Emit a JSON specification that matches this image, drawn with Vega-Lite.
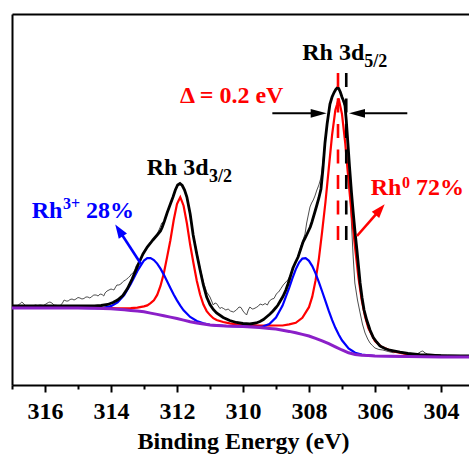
{
"$schema": "https://vega.github.io/schema/vega-lite/v6.json",
"width": 457, "height": 371,
"autosize": {"type": "none"},
"padding": {"left": 12, "top": 14, "right": 0, "bottom": 69},
"background": "white",
"config": {"view": {"stroke": null}, "axis": {"grid": false, "domainColor": "#000000", "tickColor": "#000000"}},
"datasets": {
"base": [{"be":317,"i":77},{"be":316,"i":77},{"be":315,"i":77},{"be":314.5,"i":76.8},{"be":314,"i":76.2},{"be":313.8,"i":75.7},{"be":313.6,"i":75.2},{"be":313.4,"i":74.6},{"be":313.2,"i":73.9},{"be":313,"i":73.2},{"be":312.8,"i":71.9},{"be":312.6,"i":70.6},{"be":312.4,"i":69.3},{"be":312.2,"i":67.9},{"be":312,"i":66.5},{"be":311.8,"i":64.9},{"be":311.6,"i":63.3},{"be":311.4,"i":62},{"be":311.2,"i":61},{"be":311,"i":60},{"be":310.8,"i":59.6},{"be":310.5,"i":59},{"be":310.2,"i":58.7},{"be":310,"i":58.5},{"be":309.5,"i":57.5},{"be":309.2,"i":56.6},{"be":309,"i":56},{"be":308.8,"i":54.8},{"be":308.6,"i":53.6},{"be":308.4,"i":52.2},{"be":308.2,"i":50.6},{"be":308,"i":49},{"be":307.8,"i":46.6},{"be":307.6,"i":44.2},{"be":307.4,"i":41.4},{"be":307.2,"i":38.2},{"be":307,"i":35},{"be":306.8,"i":32.2},{"be":306.6,"i":30.6},{"be":306.4,"i":29.8},{"be":306.2,"i":29.4},{"be":306,"i":29},{"be":305.5,"i":28.75},{"be":305,"i":28.5},{"be":304.5,"i":28.2},{"be":304,"i":28},{"be":303.15,"i":28}],
"red": [{"be":317,"i":77},{"be":316,"i":77},{"be":315,"i":77.1},{"be":314.5,"i":77.1},{"be":314,"i":76.9},{"be":313.8,"i":76.7},{"be":313.6,"i":76.7},{"be":313.4,"i":76.8},{"be":313.2,"i":77.3},{"be":313,"i":78.6},{"be":312.9,"i":79.6},{"be":312.8,"i":81.8},{"be":312.7,"i":84.7},{"be":312.6,"i":90.1},{"be":312.5,"i":99},{"be":312.4,"i":111.5},{"be":312.3,"i":127.9},{"be":312.2,"i":144.8},{"be":312.1,"i":164.8},{"be":312,"i":180.9},{"be":311.95,"i":184.4},{"be":311.9,"i":187.7},{"be":311.85,"i":183.6},{"be":311.8,"i":179.3},{"be":311.7,"i":161.7},{"be":311.6,"i":140.2},{"be":311.5,"i":121.8},{"be":311.4,"i":104.2},{"be":311.3,"i":90.5},{"be":311.2,"i":80.5},{"be":311.1,"i":73.9},{"be":311,"i":69.9},{"be":310.9,"i":66.8},{"be":310.8,"i":65},{"be":310.6,"i":63},{"be":310.4,"i":61.6},{"be":310.2,"i":60.7},{"be":310,"i":60.1},{"be":309.5,"i":59.4},{"be":309,"i":59.5},{"be":308.8,"i":59.5},{"be":308.6,"i":60.6},{"be":308.4,"i":62.2},{"be":308.2,"i":67.2},{"be":308,"i":77.8},{"be":307.9,"i":88.3},{"be":307.8,"i":104.6},{"be":307.7,"i":126.2},{"be":307.6,"i":153.7},{"be":307.5,"i":183},{"be":307.4,"i":216.4},{"be":307.3,"i":249.8},{"be":307.2,"i":274.9},{"be":307.15,"i":280.4},{"be":307.1,"i":286.6},{"be":307.05,"i":278.8},{"be":307,"i":271},{"be":306.9,"i":241.6},{"be":306.8,"i":203.7},{"be":306.7,"i":168.7},{"be":306.6,"i":136.6},{"be":306.5,"i":107.5},{"be":306.4,"i":84.8},{"be":306.3,"i":68.4},{"be":306.2,"i":56.9},{"be":306.1,"i":50.4},{"be":306,"i":44},{"be":305.8,"i":38.2},{"be":305.6,"i":35.5},{"be":305.4,"i":33.2},{"be":305,"i":30.7},{"be":304.5,"i":29},{"be":304,"i":28.4},{"be":303.15,"i":28.2}],
"blue": [{"be":317,"i":77},{"be":316,"i":77},{"be":315,"i":77},{"be":314.6,"i":76.9},{"be":314.4,"i":76.9},{"be":314.2,"i":77.5},{"be":314,"i":78.9},{"be":313.8,"i":82.6},{"be":313.6,"i":89.9},{"be":313.4,"i":101.1},{"be":313.2,"i":114.1},{"be":313,"i":124.5},{"be":312.9,"i":126.8},{"be":312.8,"i":126.9},{"be":312.7,"i":125},{"be":312.6,"i":121.4},{"be":312.5,"i":116.4},{"be":312.4,"i":110.4},{"be":312.3,"i":103.8},{"be":312.2,"i":97},{"be":312.1,"i":90.5},{"be":312,"i":84.6},{"be":311.9,"i":79.3},{"be":311.8,"i":74.7},{"be":311.6,"i":68},{"be":311.4,"i":64},{"be":311.2,"i":61.7},{"be":311,"i":60.2},{"be":310.6,"i":59.2},{"be":310.2,"i":58.7},{"be":310,"i":58.5},{"be":309.6,"i":58.1},{"be":309.4,"i":58.5},{"be":309.2,"i":60.9},{"be":309,"i":67.4},{"be":308.8,"i":79.4},{"be":308.6,"i":97.2},{"be":308.5,"i":106.8},{"be":308.4,"i":115.6},{"be":308.3,"i":122.5},{"be":308.2,"i":126.4},{"be":308.1,"i":126.8},{"be":308,"i":124.2},{"be":307.9,"i":118.9},{"be":307.8,"i":111.6},{"be":307.7,"i":102.9},{"be":307.6,"i":93.5},{"be":307.5,"i":83.8},{"be":307.4,"i":74.1},{"be":307.3,"i":65.1},{"be":307.2,"i":57.2},{"be":307.1,"i":50.4},{"be":307,"i":44.7},{"be":306.8,"i":36.5},{"be":306.6,"i":32.3},{"be":306.4,"i":30.4},{"be":306.2,"i":29.6},{"be":306,"i":29},{"be":305.5,"i":28.75},{"be":305,"i":28.5},{"be":304,"i":28},{"be":303.15,"i":28}],
"env": [{"be":317,"i":79},{"be":316,"i":79},{"be":315,"i":79},{"be":314.5,"i":79},{"be":314.3,"i":79.5},{"be":314.1,"i":80.5},{"be":313.94,"i":82.5},{"be":313.8,"i":85},{"be":313.64,"i":89.5},{"be":313.5,"i":96.5},{"be":313.36,"i":106},{"be":313.25,"i":114.5},{"be":313.18,"i":120},{"be":313.1,"i":126},{"be":313.03,"i":131},{"be":312.9,"i":138},{"be":312.8,"i":142},{"be":312.73,"i":145},{"be":312.6,"i":150},{"be":312.5,"i":154},{"be":312.45,"i":157.5},{"be":312.38,"i":164},{"be":312.3,"i":172},{"be":312.2,"i":181},{"be":312.12,"i":188},{"be":312.05,"i":195},{"be":311.98,"i":200},{"be":311.91,"i":201.5},{"be":311.84,"i":199.5},{"be":311.77,"i":195},{"be":311.7,"i":188},{"be":311.6,"i":171},{"be":311.51,"i":150},{"be":311.4,"i":131},{"be":311.3,"i":115},{"be":311.2,"i":100},{"be":311.1,"i":88},{"be":311,"i":80.5},{"be":310.9,"i":75.5},{"be":310.8,"i":72},{"be":310.6,"i":67.5},{"be":310.4,"i":64.5},{"be":310.2,"i":62.5},{"be":310,"i":61.5},{"be":309.79,"i":61},{"be":309.6,"i":62},{"be":309.485,"i":63.5},{"be":309.38,"i":65.5},{"be":309.27,"i":68.5},{"be":309.18,"i":71},{"be":309.09,"i":74},{"be":309,"i":77.5},{"be":308.94,"i":80},{"be":308.87,"i":84},{"be":308.79,"i":88.5},{"be":308.7,"i":95},{"be":308.636,"i":101},{"be":308.56,"i":109},{"be":308.485,"i":117},{"be":308.41,"i":122.5},{"be":308.33,"i":128},{"be":308.25,"i":136},{"be":308.18,"i":143},{"be":308.1,"i":148},{"be":308.03,"i":153},{"be":307.96,"i":158},{"be":307.91,"i":163},{"be":307.83,"i":172},{"be":307.76,"i":180},{"be":307.7,"i":187},{"be":307.636,"i":196},{"be":307.58,"i":215},{"be":307.515,"i":242},{"be":307.45,"i":261},{"be":307.364,"i":281},{"be":307.3,"i":288},{"be":307.24,"i":292.5},{"be":307.19,"i":295.5},{"be":307.15,"i":297},{"be":307.1,"i":296.5},{"be":307.05,"i":293},{"be":307,"i":288},{"be":306.95,"i":284},{"be":306.91,"i":280},{"be":306.87,"i":265},{"be":306.82,"i":242},{"be":306.77,"i":218},{"be":306.71,"i":192},{"be":306.66,"i":173},{"be":306.61,"i":155},{"be":306.55,"i":136},{"be":306.5,"i":119},{"be":306.45,"i":102},{"be":306.39,"i":87},{"be":306.33,"i":75},{"be":306.25,"i":65},{"be":306.15,"i":55},{"be":306.05,"i":47.5},{"be":305.95,"i":43},{"be":305.85,"i":39},{"be":305.7,"i":36.5},{"be":305.55,"i":34.8},{"be":305.4,"i":33.8},{"be":305.24,"i":32.8},{"be":305,"i":31.5},{"be":304.64,"i":30.3},{"be":304,"i":29.3},{"be":303.15,"i":29}],
"raw": [{"be":317,"i":80},{"be":316.94,"i":79.5},{"be":316.88,"i":79},{"be":316.8,"i":80},{"be":316.74,"i":82},{"be":316.7,"i":83},{"be":316.64,"i":81},{"be":316.58,"i":79},{"be":316.52,"i":78.5},{"be":316.45,"i":79},{"be":316.38,"i":78.5},{"be":316.3,"i":80},{"be":316.22,"i":79.5},{"be":316.15,"i":80},{"be":316.05,"i":79.5},{"be":315.97,"i":81},{"be":315.9,"i":82.5},{"be":315.85,"i":83},{"be":315.79,"i":82},{"be":315.73,"i":80},{"be":315.62,"i":79.5},{"be":315.55,"i":79},{"be":315.47,"i":82},{"be":315.42,"i":85},{"be":315.36,"i":84},{"be":315.3,"i":84},{"be":315.24,"i":85.5},{"be":315.18,"i":86},{"be":315.12,"i":85},{"be":315.06,"i":86},{"be":315,"i":87.5},{"be":314.94,"i":87},{"be":314.88,"i":86},{"be":314.82,"i":86.5},{"be":314.76,"i":88},{"be":314.7,"i":88},{"be":314.64,"i":87},{"be":314.58,"i":88.5},{"be":314.52,"i":90},{"be":314.45,"i":90},{"be":314.39,"i":89},{"be":314.33,"i":91},{"be":314.27,"i":90.5},{"be":314.22,"i":89},{"be":314.18,"i":92},{"be":314.12,"i":94},{"be":314.06,"i":95},{"be":314,"i":96},{"be":313.95,"i":95.5},{"be":313.91,"i":95},{"be":313.86,"i":98},{"be":313.82,"i":100},{"be":313.76,"i":100},{"be":313.7,"i":101},{"be":313.65,"i":103},{"be":313.61,"i":104},{"be":313.56,"i":105},{"be":313.52,"i":106},{"be":313.47,"i":107.5},{"be":313.42,"i":109},{"be":313.38,"i":111},{"be":313.33,"i":112},{"be":313.28,"i":115},{"be":313.24,"i":119},{"be":313.19,"i":121.5},{"be":313.15,"i":123.5},{"be":313.1,"i":126.5},{"be":313.03,"i":131.5},{"be":312.95,"i":136},{"be":312.88,"i":139.5},{"be":312.8,"i":142.5},{"be":312.73,"i":146},{"be":312.66,"i":148},{"be":312.6,"i":151},{"be":312.52,"i":157},{"be":312.46,"i":162},{"be":312.4,"i":163},{"be":312.35,"i":167.5},{"be":312.3,"i":172},{"be":312.2,"i":181},{"be":312.12,"i":188.5},{"be":312.05,"i":194.5},{"be":311.98,"i":199.5},{"be":311.93,"i":201},{"be":311.88,"i":200.5},{"be":311.82,"i":198},{"be":311.76,"i":194},{"be":311.7,"i":187.5},{"be":311.6,"i":170},{"be":311.5,"i":150},{"be":311.4,"i":133},{"be":311.3,"i":117},{"be":311.2,"i":103},{"be":311.1,"i":93},{"be":311,"i":88},{"be":310.95,"i":84},{"be":310.9,"i":80},{"be":310.85,"i":82},{"be":310.8,"i":81.5},{"be":310.75,"i":79},{"be":310.7,"i":76.5},{"be":310.65,"i":77.5},{"be":310.6,"i":76.7},{"be":310.52,"i":75},{"be":310.45,"i":76},{"be":310.38,"i":74},{"be":310.29,"i":73},{"be":310.2,"i":75},{"be":310.12,"i":78},{"be":310.06,"i":77.5},{"be":310,"i":74},{"be":309.95,"i":72},{"be":309.89,"i":70},{"be":309.84,"i":75},{"be":309.79,"i":78},{"be":309.72,"i":76},{"be":309.67,"i":76.3},{"be":309.6,"i":77.5},{"be":309.53,"i":79},{"be":309.48,"i":81},{"be":309.4,"i":80},{"be":309.33,"i":81.5},{"be":309.26,"i":80},{"be":309.2,"i":84},{"be":309.12,"i":86},{"be":309.06,"i":86.5},{"be":308.98,"i":91.5},{"be":308.92,"i":93},{"be":308.85,"i":96.5},{"be":308.78,"i":100},{"be":308.7,"i":103},{"be":308.64,"i":105},{"be":308.56,"i":110},{"be":308.49,"i":117},{"be":308.41,"i":123},{"be":308.33,"i":129},{"be":308.25,"i":138},{"be":308.18,"i":145},{"be":308.12,"i":151},{"be":308.07,"i":162},{"be":308.02,"i":170},{"be":307.97,"i":178},{"be":307.92,"i":182},{"be":307.87,"i":185},{"be":307.82,"i":189},{"be":307.76,"i":195},{"be":307.7,"i":200},{"be":307.64,"i":207},{"be":307.58,"i":222},{"be":307.515,"i":244},{"be":307.45,"i":261},{"be":307.364,"i":281},{"be":307.3,"i":288},{"be":307.24,"i":293},{"be":307.19,"i":295.5},{"be":307.15,"i":297},{"be":307.1,"i":296.5},{"be":307.05,"i":293},{"be":307,"i":287},{"be":306.95,"i":282},{"be":306.91,"i":277},{"be":306.87,"i":258},{"be":306.82,"i":232},{"be":306.76,"i":195},{"be":306.71,"i":160},{"be":306.66,"i":128},{"be":306.61,"i":102},{"be":306.53,"i":85},{"be":306.45,"i":72},{"be":306.38,"i":61},{"be":306.3,"i":52},{"be":306.22,"i":46},{"be":306.15,"i":42},{"be":306.08,"i":39.5},{"be":306,"i":37},{"be":305.88,"i":35.5},{"be":305.76,"i":35},{"be":305.6,"i":33.5},{"be":305.45,"i":32.3},{"be":305.3,"i":32.8},{"be":305.2,"i":31.5},{"be":305,"i":31.8},{"be":304.94,"i":31.7},{"be":304.8,"i":31.2},{"be":304.7,"i":31.5},{"be":304.6,"i":33.5},{"be":304.55,"i":34},{"be":304.48,"i":32},{"be":304.4,"i":31},{"be":304.2,"i":30.5},{"be":304,"i":30.2},{"be":303.8,"i":30},{"be":303.6,"i":29.8},{"be":303.4,"i":29.5},{"be":303.15,"i":29.3}],
"dash": [{"id":"Rh0","be":307.12,"i":312,"i2":145},{"id":"ref","be":306.87,"i":312,"i2":145}],
"arrows": [{"id":"left","be":309.11,"i":271.7,"be2":307.706,"i2":271.7},{"id":"right","be":305.02,"i":271.7,"be2":306.545,"i2":271.7},{"id":"blue","be":313.09,"i":121,"be2":313.755,"i2":154.7},{"id":"red","be":306.545,"i":149,"be2":305.845,"i2":175.4}],
"heads": [{"id":"left","be":307.706,"i":271.7},{"id":"right","be":306.545,"i":271.7},{"id":"blue","be":313.755,"i":154.7},{"id":"red","be":305.845,"i":175.4}],
"labels": [
{"kind":"main","group":"black","be":312.918,"i":210,"text":"Rh 3d"},
{"kind":"main","group":"black","be":308.203,"i":325,"text":"Rh 3d"},
{"kind":"sub","group":"black","be":311.03,"i":203.3,"text":"3/2"},
{"kind":"sub","group":"black","be":306.324,"i":318.3,"text":"5/2"},
{"kind":"main","group":"red","be":311.909,"i":281.7,"text":"Δ = 0.2 eV"},
{"kind":"main","group":"red","be":306.13,"i":190,"text":"Rh"},
{"kind":"sub","group":"red","be":305.182,"i":197,"text":"0"},
{"kind":"main","group":"red","be":304.758,"i":190,"text":"72%"},
{"kind":"main","group":"blue","be":316.403,"i":166.7,"text":"Rh"},
{"kind":"sub","group":"blue","be":315.455,"i":175.7,"text":"3+"},
{"kind":"main","group":"blue","be":314.758,"i":166.7,"text":"28%"}
]
},
"layer": [
{
"encoding": {
"x": {"field": "be", "type": "quantitative", "scale": {"domain": [303.15, 317], "reverse": true, "nice": false, "zero": false}, "axis": null},
"y": {"field": "i", "type": "quantitative", "scale": {"domain": [0, 371], "nice": false, "zero": false}, "axis": null}
},
"layer": [
{"data": {"name": "raw"}, "mark": {"type": "line", "color": "#3a3a3a", "strokeWidth": 0.9}},
{"data": {"name": "red"}, "mark": {"type": "line", "color": "#FF0000", "strokeWidth": 2.2}},
{"data": {"name": "blue"}, "mark": {"type": "line", "color": "#0000FF", "strokeWidth": 2.2}},
{"data": {"name": "env"}, "mark": {"type": "line", "color": "#000000", "strokeWidth": 2.8}},
{"data": {"name": "base"}, "mark": {"type": "line", "color": "#8B1FC8", "strokeWidth": 3}},
{"data": {"name": "dash"}, "transform": [{"filter": "datum.id === 'Rh0'"}], "mark": {"type": "rule", "color": "#FF0000", "strokeWidth": 2.6, "strokeDash": [14, 11.5]}, "encoding": {"y2": {"field": "i2"}}},
{"data": {"name": "dash"}, "transform": [{"filter": "datum.id === 'ref'"}], "mark": {"type": "rule", "color": "#000000", "strokeWidth": 2.6, "strokeDash": [14, 11.5]}, "encoding": {"y2": {"field": "i2"}}},
{"data": {"name": "arrows"}, "transform": [{"filter": "datum.id === 'left' || datum.id === 'right'"}], "mark": {"type": "rule", "color": "#000000", "strokeWidth": 2}, "encoding": {"x2": {"field": "be2"}, "y2": {"field": "i2"}}},
{"data": {"name": "arrows"}, "transform": [{"filter": "datum.id === 'blue'"}], "mark": {"type": "rule", "color": "#0000FF", "strokeWidth": 2.6}, "encoding": {"x2": {"field": "be2"}, "y2": {"field": "i2"}}},
{"data": {"name": "arrows"}, "transform": [{"filter": "datum.id === 'red'"}], "mark": {"type": "rule", "color": "#FF0000", "strokeWidth": 2.6}, "encoding": {"x2": {"field": "be2"}, "y2": {"field": "i2"}}},
{"data": {"name": "heads"}, "transform": [{"filter": "datum.id === 'left'"}], "mark": {"type": "point", "shape": "M1,0L-1,-0.55L-1,0.55Z", "size": 256, "angle": 0, "filled": true, "opacity": 1, "color": "#000000", "strokeWidth": 0}},
{"data": {"name": "heads"}, "transform": [{"filter": "datum.id === 'right'"}], "mark": {"type": "point", "shape": "M1,0L-1,-0.55L-1,0.55Z", "size": 256, "angle": 180, "filled": true, "opacity": 1, "color": "#000000", "strokeWidth": 0}},
{"data": {"name": "heads"}, "transform": [{"filter": "datum.id === 'blue'"}], "mark": {"type": "point", "shape": "M1,0L-1,-0.7L-1,0.7Z", "size": 196, "angle": 237, "filled": true, "opacity": 1, "color": "#0000FF", "strokeWidth": 0}},
{"data": {"name": "heads"}, "transform": [{"filter": "datum.id === 'red'"}], "mark": {"type": "point", "shape": "M1,0L-1,-0.7L-1,0.7Z", "size": 196, "angle": 311, "filled": true, "opacity": 1, "color": "#FF0000", "strokeWidth": 0}},
{"data": {"name": "labels"}, "transform": [{"filter": "datum.kind === 'main' && datum.group === 'black'"}], "mark": {"type": "text", "font": "Liberation Serif", "fontWeight": "bold", "fontSize": 24, "align": "left", "baseline": "alphabetic", "color": "#000000"}, "encoding": {"text": {"field": "text"}}},
{"data": {"name": "labels"}, "transform": [{"filter": "datum.kind === 'sub' && datum.group === 'black'"}], "mark": {"type": "text", "font": "Liberation Serif", "fontWeight": "bold", "fontSize": 18, "align": "left", "baseline": "alphabetic", "color": "#000000"}, "encoding": {"text": {"field": "text"}}},
{"data": {"name": "labels"}, "transform": [{"filter": "datum.kind === 'main' && datum.group === 'red'"}], "mark": {"type": "text", "font": "Liberation Serif", "fontWeight": "bold", "fontSize": 24, "align": "left", "baseline": "alphabetic", "color": "#FF0000"}, "encoding": {"text": {"field": "text"}}},
{"data": {"name": "labels"}, "transform": [{"filter": "datum.kind === 'sub' && datum.group === 'red'"}], "mark": {"type": "text", "font": "Liberation Serif", "fontWeight": "bold", "fontSize": 16, "align": "left", "baseline": "alphabetic", "color": "#FF0000"}, "encoding": {"text": {"field": "text"}}},
{"data": {"name": "labels"}, "transform": [{"filter": "datum.kind === 'main' && datum.group === 'blue'"}], "mark": {"type": "text", "font": "Liberation Serif", "fontWeight": "bold", "fontSize": 24, "align": "left", "baseline": "alphabetic", "color": "#0000FF"}, "encoding": {"text": {"field": "text"}}},
{"data": {"name": "labels"}, "transform": [{"filter": "datum.kind === 'sub' && datum.group === 'blue'"}], "mark": {"type": "text", "font": "Liberation Serif", "fontWeight": "bold", "fontSize": 16, "align": "left", "baseline": "alphabetic", "color": "#0000FF"}, "encoding": {"text": {"field": "text"}}}
]
},
{"data": {"name": "base"}, "mark": {"type": "line", "opacity": 0},
 "encoding": {
 "x": {"field": "be", "type": "quantitative", "scale": {"domain": [303.15, 317], "reverse": true, "nice": false, "zero": false},
   "axis": {"orient": "bottom", "values": [304, 306, 308, 310, 312, 314, 316], "format": "d", "tickSize": 7, "tickWidth": 2, "domain": true, "domainWidth": 2, "labelFont": "Liberation Serif", "labelFontSize": 24, "labelFontWeight": "bold", "labelColor": "#000000", "labelBaseline": "alphabetic", "labelPadding": 26, "labelFlush": false, "labelOverlap": false, "title": "Binding Energy (eV)", "titleFont": "Liberation Serif", "titleFontSize": 24, "titleFontWeight": "bold", "titleColor": "#000000", "titleBaseline": "alphabetic", "titleX": 231, "titleY": 63}},
 "y": {"field": "i", "type": "quantitative", "scale": {"domain": [0, 371], "nice": false, "zero": false},
   "axis": {"orient": "left", "domain": true, "domainWidth": 2, "ticks": false, "labels": false, "title": null}}
 }},
{"data": {"name": "base"}, "mark": {"type": "line", "opacity": 0},
 "encoding": {
 "x": {"field": "be", "type": "quantitative", "scale": {"domain": [303.15, 317], "reverse": true, "nice": false, "zero": false},
   "axis": {"orient": "bottom", "values": [305, 307, 309, 311, 313, 315, 317], "tickSize": 4, "tickWidth": 2, "domain": false, "labels": false, "title": null}},
 "y": {"field": "i", "type": "quantitative", "scale": {"domain": [0, 371], "nice": false, "zero": false}, "axis": null}
 }},
{"data": {"name": "base"}, "mark": {"type": "line", "opacity": 0},
 "encoding": {
 "x": {"field": "be", "type": "quantitative", "scale": {"domain": [303.15, 317], "reverse": true, "nice": false, "zero": false},
   "axis": {"orient": "top", "domain": true, "domainWidth": 2, "ticks": false, "labels": false, "title": null}},
 "y": {"field": "i", "type": "quantitative", "scale": {"domain": [0, 371], "nice": false, "zero": false}, "axis": null}
 }}
],
"resolve": {"axis": {"x": "independent", "y": "independent"}}
}
